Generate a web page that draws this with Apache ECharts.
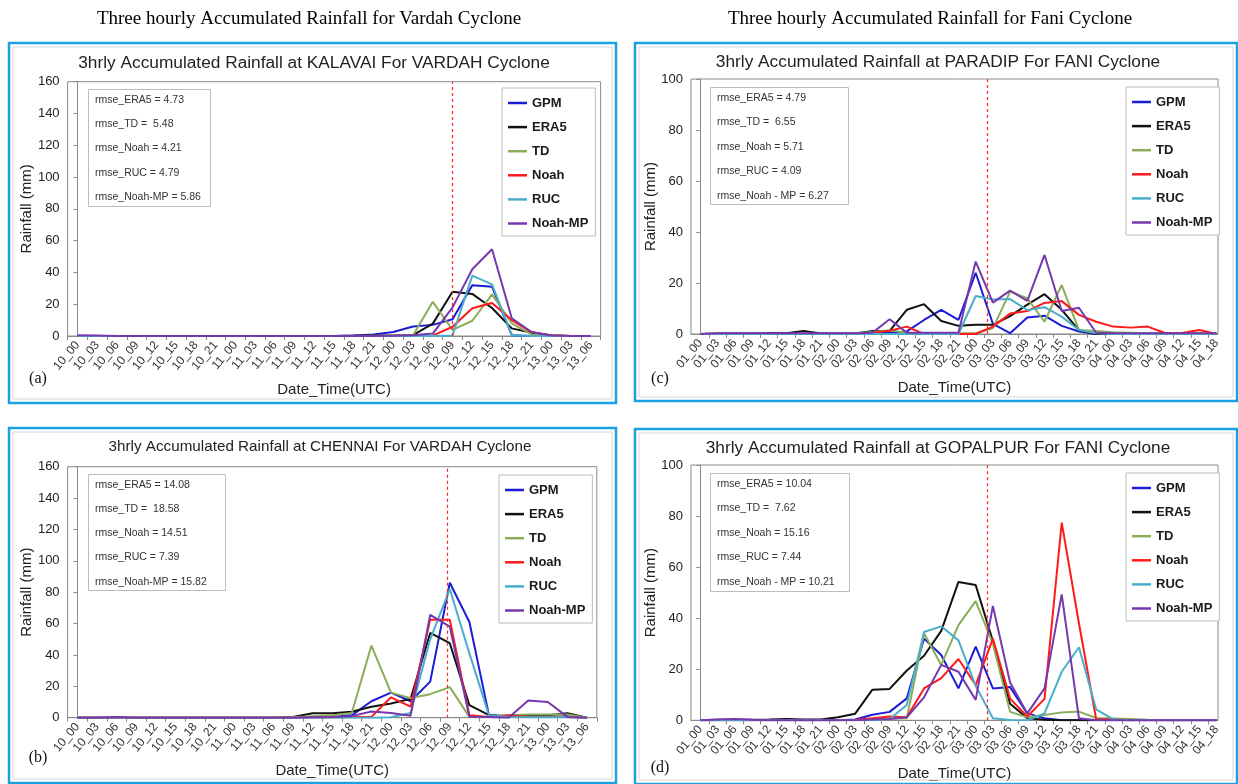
<!DOCTYPE html>
<html lang="en">
<head>
    <meta charset="UTF-8">
    <title>Three hourly Accumulated Rainfall</title>
    <script src="https://cdn.jsdelivr.net/npm/echarts@6/dist/echarts.min.js"></script>
    <style>
        html, body { margin: 0; padding: 0; background: #fff; }
        #main { width: 1238px; height: 784px; }
    </style>
</head>
<body>
<div id="main"></div>

<script>
    // tick labels (date_hour, UTC)
    var vardahTimes = ['10_00', '10_03', '10_06', '10_09', '10_12', '10_15', '10_18', '10_21',
        '11_00', '11_03', '11_06', '11_09', '11_12', '11_15', '11_18', '11_21',
        '12_00', '12_03', '12_06', '12_09', '12_12', '12_15', '12_18', '12_21',
        '13_00', '13_03', '13_06'];
    var faniTimes = ['01_00', '01_03', '01_06', '01_09', '01_12', '01_15', '01_18', '01_21',
        '02_00', '02_03', '02_06', '02_09', '02_12', '02_15', '02_18', '02_21',
        '03_00', '03_03', '03_06', '03_09', '03_12', '03_15', '03_18', '03_21',
        '04_00', '04_03', '04_06', '04_09', '04_12', '04_15', '04_18'];

    var seriesNames = ['GPM', 'ERA5', 'TD', 'Noah', 'RUC', 'Noah-MP'];
    var seriesColors = ['#1c1cd6', '#111111', '#8bad57', '#ff1a1a', '#4aaecb', '#7638ad'];

    // (a) KALAVAI, Vardah
    var kalavaiGPM    = [0, 0, 0, 0, 0, 0, 0, 0, 0, 0, 0, 0, 0, 0, 0.3, 1, 2.5, 6, 7, 10.5, 32, 31, 0.5, 0, 0, 0, 0];
    var kalavaiERA5   = [0, 0, 0, 0, 0, 0, 0, 0, 0, 0, 0, 0, 0, 0, 0.2, 0.3, 0.3, 0.6, 7.8, 27.8, 26.5, 17.6, 4.8, 2, 0.4, 0, 0];
    var kalavaiTD     = [0, 0, 0, 0, 0, 0, 0, 0, 0, 0, 0, 0, 0, 0, 0, 0.2, 0.3, 0.5, 21.5, 3.8, 9.6, 26.2, 8, 1, 0.3, 0, 0];
    var kalavaiNoah   = [0, 0, 0, 0, 0, 0, 0, 0, 0, 0, 0, 0, 0, 0, 0, 0, 0, 0, 0.2, 5.8, 17.5, 20.8, 10, 2.5, 0.3, 0, 0];
    var kalavaiRUC    = [0, 0, 0, 0, 0, 0, 0, 0, 0, 0, 0, 0, 0, 0, 0, 0, 0, 0, 0, 0.3, 38, 32.5, 0.5, 0, 0, 0, 0];
    var kalavaiNoahMP = [0.5, 0.3, 0, 0, 0, 0, 0, 0, 0, 0, 0, 0, 0, 0, 0, 0, 0.2, 0.5, 1.5, 18, 42, 54.6, 11.2, 2.5, 0.3, 0, 0];
    var kalavaiRmse   = ['4.73', '5.48', '4.21', '4.79', '5.86'];
    var kalavaiMarker = 19;

    // (b) CHENNAI, Vardah
    var chennaiGPM    = [0, 0, 0, 0, 0, 0, 0, 0, 0, 0, 0, 0, 0.5, 0.5, 1.5, 10.5, 16, 10.5, 23, 86, 61, 1.5, 0.5, 0.5, 0.5, 1, 0];
    var chennaiERA5   = [0, 0, 0, 0, 0, 0, 0, 0, 0, 0, 0, 0.4, 2.8, 2.8, 3.8, 7, 9, 12, 54, 47.5, 8, 1.7, 1, 1.5, 1.5, 2.8, 0];
    var chennaiTD     = [0, 0, 0, 0, 0, 0, 0, 0, 0, 0, 0, 0.3, 1, 1.5, 3, 46, 16, 12.5, 15, 19.5, 0.5, 0.5, 1.5, 2, 2, 2, 0];
    var chennaiNoah   = [0, 0, 0, 0, 0, 0, 0, 0, 0, 0, 0, 0, 0.2, 0.3, 0.5, 0.5, 13, 7, 62.5, 62.5, 1.5, 0.5, 1.5, 0.5, 0.5, 0.5, 0];
    var chennaiRUC    = [0, 0, 0, 0, 0, 0, 0, 0, 0, 0, 0, 0, 0, 0, 0, 0, 0.3, 3, 50, 82, 41, 1.5, 0.5, 0.3, 0.3, 0.3, 0];
    var chennaiNoahMP = [0, 0, 0.5, 0, 0, 0, 0, 0, 0, 0, 0, 0, 0.3, 0.5, 1, 4, 3, 1.3, 65.5, 58, 0.6, 0.5, 0, 11, 10, 0.5, 0];
    var chennaiRmse   = ['14.08', '18.58', '14.51', '7.39', '15.82'];
    var chennaiMarker = 18.85;

    // (c) PARADIP, Fani
    var paradipGPM    = [0, 0, 0, 0, 0, 0, 0, 0, 0, 0, 0.3, 0.5, 1, 5.5, 9.5, 5.5, 24, 4, 0.3, 6.5, 7.2, 3.2, 1, 0, 0, 0, 0, 0, 0, 0, 0];
    var paradipERA5   = [0, 0.2, 0.2, 0.2, 0.3, 0.3, 1.2, 0.2, 0.2, 0.2, 1.2, 1.2, 9.5, 11.7, 5.1, 3.2, 3.6, 3.6, 7, 11.5, 15.6, 9.5, 1.5, 0, 0, 0, 0, 0, 0, 0, 0];
    var paradipTD     = [0, 0, 0, 0, 0, 0, 0, 0, 0, 0.3, 0.8, 1.5, 0.5, 0.3, 0.3, 0.3, 0.3, 2.2, 16.6, 14, 4.8, 19.2, 1.6, 1.2, 0.7, 0.5, 0.3, 0.3, 0.3, 0.3, 0.3];
    var paradipNoah   = [0, 0, 0, 0, 0, 0, 0, 0, 0, 0, 0.5, 1.3, 2.9, 0, 0, 0, 0, 2.9, 8, 9, 12.2, 12.9, 7.5, 4.8, 2.9, 2.5, 2.9, 0.4, 0.4, 1.6, 0];
    var paradipRUC    = [0, 0, 0, 0, 0, 0, 0, 0, 0, 0, 0, 0, 0, 0, 0, 0, 14.9, 13.5, 13.7, 9.4, 10.5, 6.8, 1.6, 0.3, 0, 0, 0, 0, 0, 0, 0];
    var paradipNoahMP = [0, 0.3, 0.3, 0.3, 0.3, 0.3, 0.3, 0.3, 0.3, 0.3, 0.5, 5.8, 0.5, 0.5, 0.5, 0.5, 28.4, 12.3, 17, 13, 31, 9, 10.3, 0.5, 0.3, 0.3, 0.3, 0.3, 0.3, 0.3, 0.3];
    var paradipRmse   = ['4.79', '6.55', '5.71', '4.09', '6.27'];
    var paradipMarker = 16.7;

    // (d) GOPALPUR, Fani
    var gopalpurGPM    = [0, 0, 0, 0, 0, 0, 0, 0, 0, 0.3, 2.2, 3.3, 8.6, 32, 25.6, 12.5, 28.9, 12.5, 13, 2.7, 0.8, 0, 0, 0, 0, 0, 0, 0, 0, 0, 0];
    var gopalpurERA5   = [0, 0.2, 0.2, 0.2, 0.3, 0.5, 0.3, 0.3, 1.2, 2.6, 12, 12.3, 19.5, 25.3, 35, 54.2, 53, 31, 6.5, 0.8, 0.2, 0, 0, 0, 0, 0, 0, 0, 0, 0, 0];
    var gopalpurTD     = [0, 0, 0, 0, 0, 0, 0, 0, 0, 0, 0.3, 0.7, 0.8, 34, 21.7, 37.3, 46.7, 30, 3.3, 1.2, 2.1, 3.1, 3.4, 0.9, 0.7, 0.5, 0.2, 0, 0, 0, 0];
    var gopalpurNoah   = [0, 0, 0, 0, 0, 0, 0, 0, 0, 0.2, 0.8, 1.5, 1.2, 12.5, 16.5, 24, 13.8, 32, 8.5, 1.5, 8.4, 77.4, 38, 0.5, 0.3, 0, 0, 0, 0, 0, 0];
    var gopalpurRUC    = [0, 0, 0, 0, 0, 0, 0, 0, 0, 0, 0, 0.5, 6, 34.6, 36.8, 31.3, 13.5, 0.8, 0.1, 0, 2.7, 19, 28.6, 4.3, 0.4, 0, 0, 0, 0, 0, 0];
    var gopalpurNoahMP = [0, 0.3, 0.5, 0.2, 0, 0, 0, 0, 0, 0, 0.3, 0.5, 1.2, 9, 21.7, 19, 8, 44.8, 14.8, 2.7, 12.5, 49.3, 0.8, 0, 0, 0, 0, 0, 0, 0, 0];
    var gopalpurRmse   = ['10.04', '7.62', '15.16', '7.44', '10.21'];
    var gopalpurMarker = 16.7;

    var rmseVardah = ['rmse_ERA5 = ', 'rmse_TD =  ', 'rmse_Noah = ', 'rmse_RUC = ', 'rmse_Noah-MP = '];
    var rmseFani   = ['rmse_ERA5 = ', 'rmse_TD =  ', 'rmse_Noah = ', 'rmse_RUC = ', 'rmse_Noah - MP = '];

    var FONT = '"Liberation Sans", Arial, sans-serif';
    var SERIF = '"Liberation Serif", "Times New Roman", serif';

    // layout of the four panels
    var panels = [
        {
            title: '3hrly Accumulated Rainfall at KALAVAI For VARDAH Cyclone', titleX: 314, titleY: 64, titleSize: 16, titleStretch: 1.08,
            times: vardahTimes, values: [kalavaiGPM, kalavaiERA5, kalavaiTD, kalavaiNoah, kalavaiRUC, kalavaiNoahMP],
            rmse: kalavaiRmse, rmseNames: rmseVardah, marker: kalavaiMarker, yMax: 160,
            grid: [67.6, 81.7, 533, 254.3], xMin: -0.5, xMax: 26.5, ticksOffset: -0.5,
            rmseBox: [88, 89, 122, 117], rmseText: [95, 100, 24.25],
            legend: [502, 88], letter: '(a)', letterPos: [38, 379],
            frame: [9, 43, 607, 360]
        },
        {
            title: '3hrly Accumulated Rainfall at CHENNAI For VARDAH Cyclone', titleX: 320, titleY: 447, titleSize: 14.5, titleStretch: 1.05,
            times: vardahTimes, values: [chennaiGPM, chennaiERA5, chennaiTD, chennaiNoah, chennaiRUC, chennaiNoahMP],
            rmse: chennaiRmse, rmseNames: rmseVardah, marker: chennaiMarker, yMax: 160,
            grid: [67.6, 466.7, 529.2, 251], xMin: -0.5, xMax: 26.5, ticksOffset: -0.5,
            rmseBox: [88, 474, 137, 116], rmseText: [95, 485, 24.2],
            legend: [499, 475], letter: '(b)', letterPos: [38, 758],
            frame: [9, 428, 607, 355]
        },
        {
            title: '3hrly Accumulated Rainfall at PARADIP For FANI Cyclone', titleX: 938, titleY: 63, titleSize: 16, titleStretch: 1.08,
            times: faniTimes, values: [paradipGPM, paradipERA5, paradipTD, paradipNoah, paradipRUC, paradipNoahMP],
            rmse: paradipRmse, rmseNames: rmseFani, marker: paradipMarker, yMax: 100,
            grid: [691, 79, 527, 255], xMin: -0.54, xMax: 30.08, ticksOffset: 0.5,
            rmseBox: [710, 87, 138, 117], rmseText: [717, 97.7, 24.5],
            legend: [1126, 87], letter: '(c)', letterPos: [660, 379],
            frame: [635, 43, 602, 358]
        },
        {
            title: '3hrly Accumulated Rainfall at GOPALPUR For FANI Cyclone', titleX: 938, titleY: 449, titleSize: 16, titleStretch: 1.08,
            times: faniTimes, values: [gopalpurGPM, gopalpurERA5, gopalpurTD, gopalpurNoah, gopalpurRUC, gopalpurNoahMP],
            rmse: gopalpurRmse, rmseNames: rmseFani, marker: gopalpurMarker, yMax: 100,
            grid: [691, 465, 527, 255.3], xMin: -0.54, xMax: 30.08, ticksOffset: 0.5,
            rmseBox: [710, 473, 139, 118], rmseText: [717, 484, 24.5],
            legend: [1126, 473], letter: '(d)', letterPos: [660, 768],
            frame: [635, 429, 602, 355]
        }
    ];

    var grids = [], xAxes = [], yAxes = [], series = [], legends = [];
    var graphics = [
        {type: 'text', x: 309, y: 19, style: {text: 'Three hourly Accumulated Rainfall for Vardah Cyclone', font: '19px ' + SERIF, fill: '#000', textAlign: 'center', textVerticalAlign: 'middle', align: 'center', verticalAlign: 'middle'}},
        {type: 'text', x: 930, y: 19, style: {text: 'Three hourly Accumulated Rainfall for Fani Cyclone', font: '19px ' + SERIF, fill: '#000', textAlign: 'center', textVerticalAlign: 'middle', align: 'center', verticalAlign: 'middle'}}
    ];

    panels.forEach(function (p, k) {
        var n = p.times.length;
        var labelAt = [], tickAt = [];
        for (var i = 0; i < n; i++) {
            labelAt.push(i);
            var t = i + p.ticksOffset;
            if (t >= p.xMin && t <= p.xMax) tickAt.push(t);
        }
        if (p.ticksOffset < 0) tickAt.push(n - 0.5);

        grids.push({
            left: p.grid[0], top: p.grid[1], width: p.grid[2], height: p.grid[3],
            show: true, borderColor: '#8a8a8a', borderWidth: 1, backgroundColor: 'transparent'
        });

        xAxes.push({
            gridIndex: k, type: 'value', min: p.xMin, max: p.xMax,
            name: 'Date_Time(UTC)', nameLocation: 'middle', nameGap: 46, nameMoveOverlap: false,
            nameTextStyle: {fontFamily: FONT, fontSize: 15, color: '#222'},
            axisLine: {show: true, onZero: false, lineStyle: {color: '#8a8a8a', width: 1}},
            axisTick: {show: true, inside: false, length: 4, customValues: tickAt, lineStyle: {color: '#8a8a8a'}},
            axisLabel: {
                customValues: labelAt, rotate: 50, margin: 7, fontFamily: FONT, fontSize: 12, color: '#333',
                formatter: function (v) { return p.times[Math.round(v)]; }
            },
            splitLine: {show: false}
        });

        yAxes.push({
            gridIndex: k, type: 'value', min: 0, max: p.yMax, interval: 20,
            name: 'Rainfall (mm)', nameLocation: 'middle', nameGap: 33, nameMoveOverlap: false,
            nameTextStyle: {fontFamily: FONT, fontSize: 15, color: '#222'},
            axisLine: {show: true, lineStyle: {color: '#8a8a8a', width: 1}},
            axisTick: {show: true, inside: false, length: 4, lineStyle: {color: '#8a8a8a'}},
            axisLabel: {margin: 8, fontFamily: FONT, fontSize: 13, color: '#222'},
            splitLine: {show: false}
        });

        seriesNames.forEach(function (name, s) {
            series.push({
                name: name, type: 'line', xAxisIndex: k, yAxisIndex: k,
                data: p.values[s].map(function (v, i) { return [i, v]; }),
                symbol: 'none', smooth: false, animation: false,
                color: seriesColors[s],
                lineStyle: {color: seriesColors[s], width: 2}
            });
        });
        // red dashed reference line (landfall time), on its own empty series
        series.push({
            name: 'landfall', type: 'line', xAxisIndex: k, yAxisIndex: k, data: [],
            symbol: 'none', animation: false, z: 3,
            markLine: {
                silent: true, symbol: ['none', 'none'], animation: false,
                label: {show: false},
                lineStyle: {color: '#ff2424', type: [3, 3], width: 1.2, opacity: 1},
                emphasis: {disabled: true},
                data: [{xAxis: p.marker}]
            }
        });

        legends.push({
            left: p.legend[0], top: p.legend[1], orient: 'vertical', selectedMode: false,
            data: seriesNames, icon: 'rect', itemWidth: 19, itemHeight: 2.5, itemGap: 11.1,
            padding: [8.5, 7, 6, 6], borderColor: '#bcbcbc', borderWidth: 1, borderRadius: 0,
            backgroundColor: '#fff',
            textStyle: {fontFamily: FONT, fontSize: 13, fontWeight: 'bold', color: '#1a1a1a'}
        });

        // blue panel frame and faint chart-area frame
        graphics.push({type: 'rect', z: 50, shape: {x: p.frame[0], y: p.frame[1], width: p.frame[2], height: p.frame[3]},
            style: {fill: 'none', stroke: '#1ba1e2', lineWidth: 2.5}});
        graphics.push({type: 'rect', z: 1, shape: {x: p.frame[0] + 4, y: p.frame[1] + 4, width: p.frame[2] - 8, height: p.frame[3] - 8},
            style: {fill: 'none', stroke: '#d6d6d6', lineWidth: 1}});

        graphics.push({type: 'text', x: p.titleX, y: p.titleY, scaleX: p.titleStretch,
            style: {text: p.title, font: p.titleSize + 'px ' + FONT, fill: '#222',
                textAlign: 'center', textVerticalAlign: 'middle', align: 'center', verticalAlign: 'middle'}});

        // rmse box
        var lines = p.rmseNames.map(function (nm, j) { return nm + p.rmse[j]; });
        graphics.push({type: 'rect', z: 5, shape: {x: p.rmseBox[0] + 0.5, y: p.rmseBox[1] + 0.5, width: p.rmseBox[2], height: p.rmseBox[3]},
            style: {fill: '#fff', stroke: '#bcbcbc', lineWidth: 1}});
        graphics.push({type: 'text', z: 6, x: p.rmseText[0], y: p.rmseText[1] - p.rmseText[2] / 2,
            style: {text: lines.join('\n'), font: '10.5px ' + FONT, fill: '#333', lineHeight: p.rmseText[2],
                textAlign: 'left', textVerticalAlign: 'top', align: 'left', verticalAlign: 'top'}});

        graphics.push({type: 'text', x: p.letterPos[0], y: p.letterPos[1], style: {text: p.letter, font: '16px ' + SERIF, fill: '#111',
            textAlign: 'center', textVerticalAlign: 'middle', align: 'center', verticalAlign: 'middle'}});
    });

    var myChart = echarts.init(document.getElementById('main'));
    myChart.setOption({
        animation: false,
        backgroundColor: '#fff',
        grid: grids,
        xAxis: xAxes,
        yAxis: yAxes,
        legend: legends,
        series: series,
        graphic: graphics
    });
</script>
</body>
</html>
